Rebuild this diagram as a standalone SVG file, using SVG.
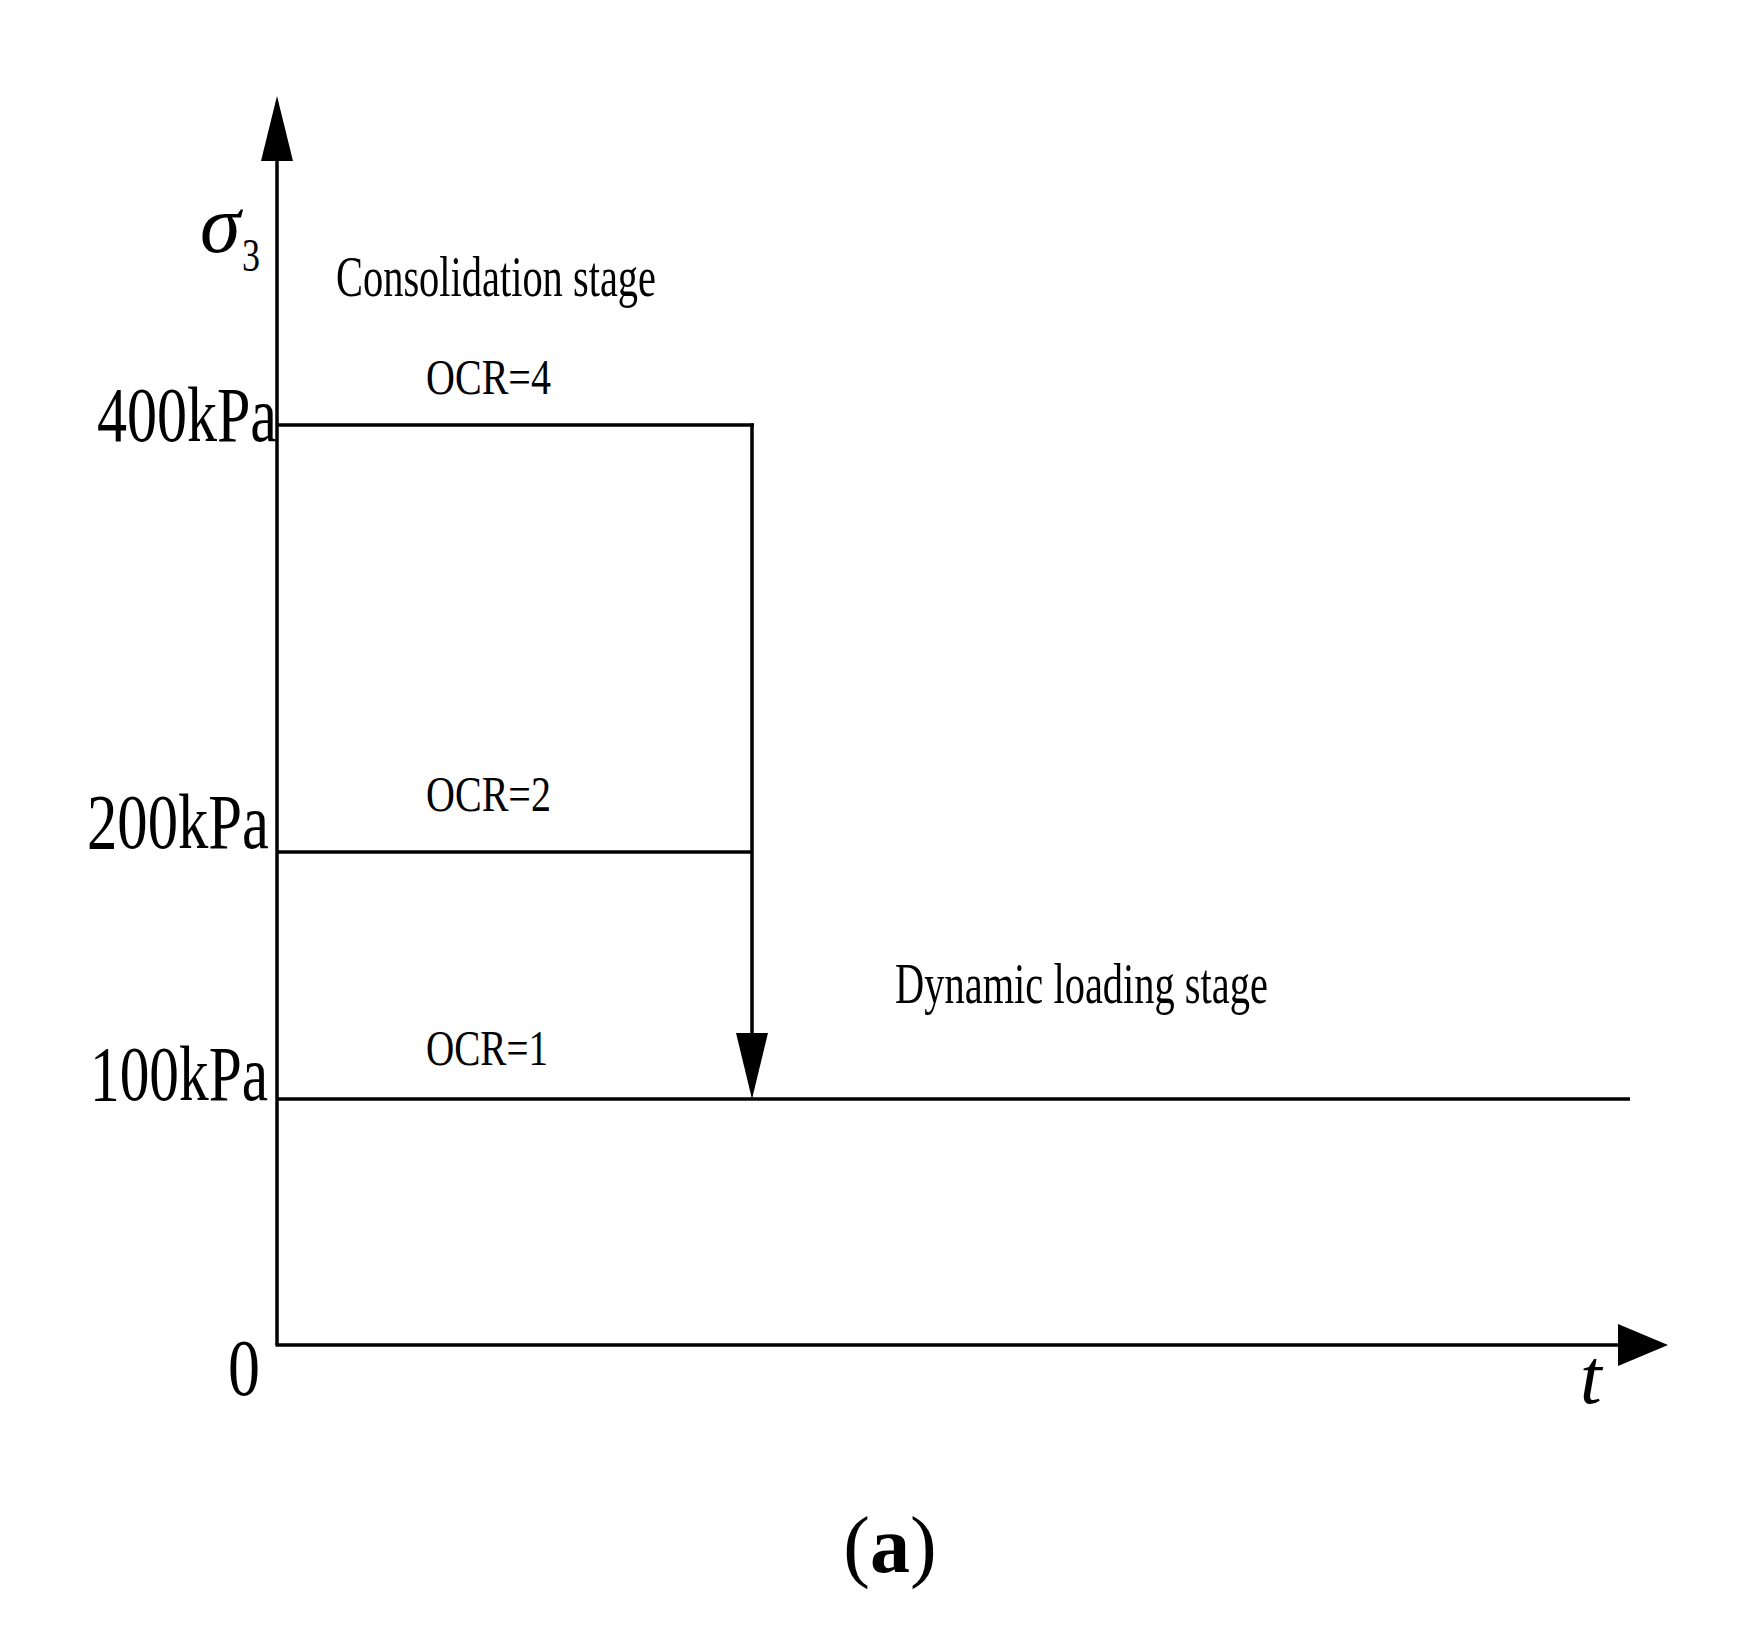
<svg xmlns="http://www.w3.org/2000/svg" width="1744" height="1634" viewBox="0 0 1744 1634">
<style>
.ln{stroke:#000;stroke-width:3.5;fill:none}
.t{font-family:"Liberation Serif","Times New Roman",serif;fill:#000}
.ax{font-size:78px}
.ocr{font-size:50px}
.stg{font-size:58px}
</style>
<rect width="1744" height="1634" fill="#fff"/>
<g id="connectors">
<line class="ln" x1="277" y1="1345" x2="277" y2="160"/>
<path d="M277,96 L261,161 L293,161 Z" fill="#000"/>
<line class="ln" x1="275.5" y1="1345" x2="1620" y2="1345"/>
<path d="M1668,1345 L1618,1324 L1618,1366 Z" fill="#000"/>
<line class="ln" x1="277" y1="425" x2="754" y2="425"/>
<line class="ln" x1="277" y1="852" x2="752" y2="852"/>
<line class="ln" x1="277" y1="1099" x2="1630" y2="1099"/>
<line class="ln" x1="752" y1="423.5" x2="752" y2="1036"/>
<path d="M752,1099 L736,1033 L768,1033 Z" fill="#000"/>
</g>
<g id="y-axis-label">
<text class="t" x="200" y="252" font-size="82" font-style="italic">σ</text>
<text class="t" x="242" y="271" font-size="46" textLength="18" lengthAdjust="spacingAndGlyphs">3</text>
</g>
<g id="tick-labels">
<text class="t ax" x="97" y="441" textLength="180" lengthAdjust="spacingAndGlyphs">400kPa</text>
<text class="t ax" x="87" y="848" textLength="182" lengthAdjust="spacingAndGlyphs">200kPa</text>
<text class="t ax" x="90" y="1100" textLength="178" lengthAdjust="spacingAndGlyphs">100kPa</text>
<text class="t" x="228" y="1395" font-size="80" textLength="32" lengthAdjust="spacingAndGlyphs">0</text>
<text class="t" x="1580" y="1403" font-size="78" font-style="italic">t</text>
</g>
<g id="stage-labels">
<text class="t stg" x="336" y="296" textLength="320" lengthAdjust="spacingAndGlyphs">Consolidation stage</text>
<text class="t stg" x="895" y="1003" textLength="373" lengthAdjust="spacingAndGlyphs">Dynamic loading stage</text>
</g>
<g id="ocr-labels">
<text class="t ocr" x="426" y="394" textLength="125" lengthAdjust="spacingAndGlyphs">OCR=4</text>
<text class="t ocr" x="426" y="811" textLength="125" lengthAdjust="spacingAndGlyphs">OCR=2</text>
<text class="t ocr" x="426" y="1065" textLength="122" lengthAdjust="spacingAndGlyphs">OCR=1</text>
</g>
<g id="caption">
<text class="t" x="890" y="1572" font-size="80" text-anchor="middle">(<tspan font-weight="bold">a</tspan>)</text>
</g>
</svg>
